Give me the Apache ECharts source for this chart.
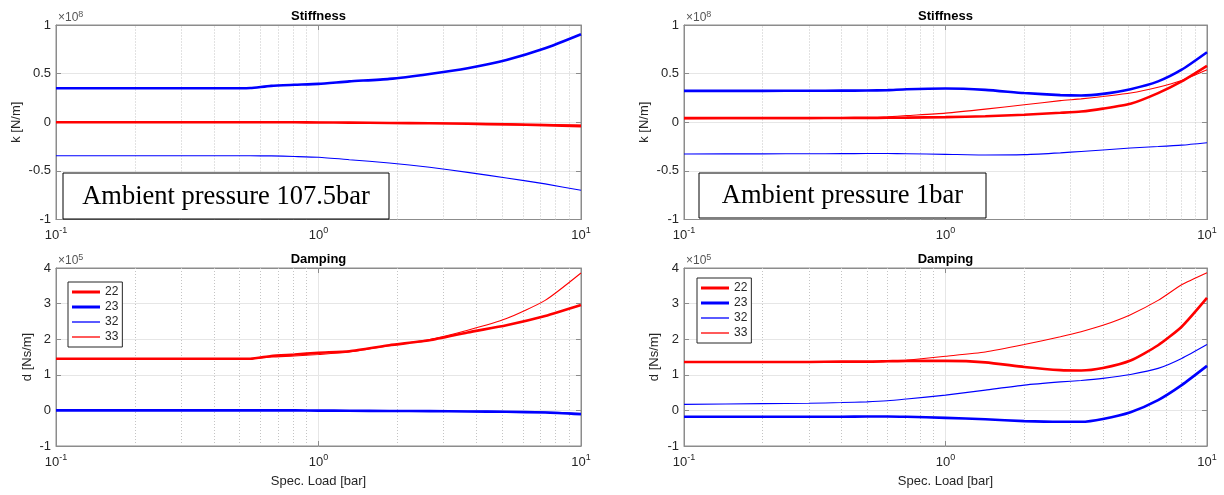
<!DOCTYPE html>
<html><head><meta charset="utf-8">
<script src="https://cdn.jsdelivr.net/npm/echarts@6/dist/echarts.min.js"></script>
<style>html,body{margin:0;padding:0;background:#fff}#c{width:1224px;height:495px}</style>
</head><body><div id="c"></div><script>
// ---- data ----
const seriesNames = ['22', '23', '32', '33'];
const xTicks = [0.1, 1, 10];
const minorX = [0.2, 0.3, 0.4, 0.5, 0.6, 0.7, 0.8, 0.9, 2, 3, 4, 5, 6, 7, 8, 9];
const kTicks = [-1, -0.5, 0, 0.5, 1];
const dTicks = [-1, 0, 1, 2, 3, 4];

// Ambient pressure 107.5 bar (left column)
const xLeft = [0.1, 0.2, 0.3, 0.4, 0.5, 0.55, 0.66, 0.81, 1.0, 1.31, 1.86, 2.65, 3.7, 5.2, 7.3, 10];
const kL22 = [0, 0, 0, 0, 0, 0, 0, 0, -0.002, -0.004, -0.007, -0.011, -0.016, -0.022, -0.03, -0.04];
const kL23 = [0.35, 0.35, 0.35, 0.35, 0.35, 0.352, 0.374, 0.385, 0.395, 0.42, 0.446, 0.497, 0.556, 0.64, 0.76, 0.905];
const kL32 = [-0.345, -0.345, -0.345, -0.345, -0.345, -0.345, -0.346, -0.352, -0.36, -0.385, -0.419, -0.463, -0.515, -0.573, -0.634, -0.70];
const kL33 = [0, 0, 0, 0, 0, 0, 0, 0, -0.001, -0.003, -0.005, -0.008, -0.012, -0.017, -0.023, -0.03];
const dL22 = [1.45, 1.45, 1.45, 1.45, 1.45, 1.45, 1.53, 1.57, 1.62, 1.66, 1.83, 1.97, 2.19, 2.39, 2.65, 2.96];
const dL23 = [0, 0, 0, 0, 0, 0, 0, 0, -0.005, -0.01, -0.015, -0.02, -0.03, -0.04, -0.06, -0.11];
const dL32 = [0, 0, 0, 0, 0, 0, 0, 0, -0.003, -0.006, -0.01, -0.015, -0.022, -0.03, -0.045, -0.08];
const dL33 = [1.45, 1.45, 1.45, 1.45, 1.45, 1.45, 1.50, 1.53, 1.57, 1.64, 1.82, 1.99, 2.25, 2.58, 3.09, 3.86];

// Ambient pressure 1 bar (right column)
const xRight = [0.1, 0.2, 0.3, 0.4, 0.5, 0.6, 0.71, 1.0, 1.42, 2.0, 2.75, 3.3, 4.0, 5.1, 6.5, 8.0, 10];
const kR22 = [0.043, 0.043, 0.043, 0.044, 0.045, 0.046, 0.048, 0.053, 0.062, 0.077, 0.097, 0.11, 0.14, 0.19, 0.30, 0.42, 0.58];
const kR23 = [0.323, 0.323, 0.324, 0.325, 0.326, 0.33, 0.34, 0.347, 0.333, 0.30, 0.279, 0.275, 0.292, 0.34, 0.42, 0.54, 0.72];
const kR32 = [-0.326, -0.325, -0.324, -0.323, -0.322, -0.322, -0.324, -0.33, -0.337, -0.333, -0.315, -0.30, -0.285, -0.265, -0.25, -0.235, -0.21];
const kR33 = [0.035, 0.036, 0.037, 0.04, 0.045, 0.055, 0.068, 0.094, 0.135, 0.18, 0.222, 0.24, 0.265, 0.30, 0.36, 0.43, 0.54];
const dR22 = [1.36, 1.36, 1.36, 1.37, 1.37, 1.38, 1.39, 1.39, 1.35, 1.22, 1.13, 1.12, 1.19, 1.40, 1.83, 2.35, 3.16];
const dR23 = [-0.18, -0.18, -0.18, -0.18, -0.17, -0.17, -0.18, -0.21, -0.25, -0.30, -0.32, -0.32, -0.24, -0.05, 0.29, 0.71, 1.25];
const dR32 = [0.17, 0.19, 0.20, 0.22, 0.24, 0.27, 0.32, 0.43, 0.57, 0.71, 0.80, 0.84, 0.90, 1.01, 1.18, 1.46, 1.85];
const dR33 = [1.36, 1.36, 1.36, 1.37, 1.37, 1.38, 1.41, 1.52, 1.64, 1.85, 2.07, 2.21, 2.39, 2.69, 3.09, 3.53, 3.87];

// ---- layout / style ----
const FONT = '"Liberation Sans", Arial, Helvetica, sans-serif';
const SERIF = '"Liberation Serif", "Times New Roman", serif';
const TXT = '#262626';
const AX = '#8c8c8c';
const lineStyles = [
  { color: '#ff0000', width: 2.6 },
  { color: '#0000ff', width: 2.6 },
  { color: '#0000ff', width: 1.1 },
  { color: '#ff0000', width: 1.1 }
];

const panels = [
  { grid: { left: 56, top: 25, width: 525, height: 194.5 }, x: xLeft, s: [kL22, kL23, kL32, kL33], ticks: kTicks, yName: 'k [N/m]', yGap: 33, title: 'Stiffness', exp: '8', xName: '' },
  { grid: { left: 56, top: 268, width: 525, height: 178 }, x: xLeft, s: [dL22, dL23, dL32, dL33], ticks: dTicks, yName: 'd [Ns/m]', yGap: 22, title: 'Damping', exp: '5', xName: 'Spec. Load [bar]' },
  { grid: { left: 684, top: 25, width: 523, height: 194.5 }, x: xRight, s: [kR22, kR23, kR32, kR33], ticks: kTicks, yName: 'k [N/m]', yGap: 33, title: 'Stiffness', exp: '8', xName: '' },
  { grid: { left: 684, top: 268, width: 523, height: 178 }, x: xRight, s: [dR22, dR23, dR32, dR33], ticks: dTicks, yName: 'd [Ns/m]', yGap: 23, title: 'Damping', exp: '5', xName: 'Spec. Load [bar]' }
];

const grid = [], xAxis = [], yAxis = [], series = [], graphic = [];
const n = panels.length;
panels.forEach((p, i) => {
  grid.push(Object.assign({ show: true, borderColor: AX, borderWidth: 1, backgroundColor: '#fff', containLabel: false }, p.grid));
  const tickInterval = p.ticks[1] - p.ticks[0];
  xAxis[i] = {
    type: 'log', logBase: 10, gridIndex: i, position: 'bottom', min: xTicks[0], max: xTicks[xTicks.length - 1],
    axisLine: { show: true, onZero: false, lineStyle: { color: AX, width: 1 } },
    axisTick: { show: true, inside: true, length: 5, lineStyle: { color: AX } },
    splitLine: { show: true, lineStyle: { color: '#e6e6e6', width: 1 } },
    axisLabel: {
      show: true, margin: 7, showMinLabel: true, showMaxLabel: true,
      formatter: v => '{b|10}{s|' + Math.round(Math.log10(v)) + '}',
      rich: {
        b: { fontSize: 13, fontFamily: FONT, color: TXT, lineHeight: 18 },
        s: { fontSize: 9, fontFamily: FONT, color: TXT, verticalAlign: 'top', lineHeight: 10 }
      }
    },
    name: p.xName, nameLocation: 'middle', nameGap: 29,
    nameTextStyle: { fontSize: 13, fontFamily: FONT, color: TXT }
  };
  xAxis[n + i] = {
    type: 'log', logBase: 10, gridIndex: i, position: 'top', min: xTicks[0], max: xTicks[xTicks.length - 1],
    axisLine: { show: true, onZero: false, lineStyle: { color: AX } },
    axisTick: { show: true, inside: true, length: 5, lineStyle: { color: AX } },
    axisLabel: { show: false }, splitLine: { show: false }
  };
  yAxis[i] = {
    type: 'value', gridIndex: i, position: 'left', min: p.ticks[0], max: p.ticks[p.ticks.length - 1], interval: tickInterval,
    axisLine: { show: true, onZero: false, lineStyle: { color: AX } },
    axisTick: { show: true, inside: true, length: 5, lineStyle: { color: AX } },
    splitLine: { show: true, lineStyle: { color: '#e6e6e6', width: 1 } },
    axisLabel: { fontSize: 13, fontFamily: FONT, color: TXT, margin: 5 },
    name: p.yName, nameLocation: 'middle', nameGap: p.yGap,
    nameTextStyle: { fontSize: 13, fontFamily: FONT, color: TXT }
  };
  yAxis[n + i] = {
    type: 'value', gridIndex: i, position: 'right', min: p.ticks[0], max: p.ticks[p.ticks.length - 1], interval: tickInterval,
    axisLine: { show: true, onZero: false, lineStyle: { color: AX } },
    axisTick: { show: true, inside: true, length: 5, lineStyle: { color: AX } },
    axisLabel: { show: false }, splitLine: { show: false }
  };
  // minor log grid lines
  series.push({
    type: 'line', name: 'minor' + i, xAxisIndex: i, yAxisIndex: i, data: [], silent: true, z: 1,
    markLine: {
      silent: true, z: 1, symbol: ['none', 'none'], animation: false,
      label: { show: false },
      lineStyle: { type: [1, 2], color: '#c4c4c4', width: 1 },
      emphasis: { disabled: true },
      data: minorX.map(v => ({ xAxis: v }))
    }
  });
  p.s.forEach((vals, k) => {
    series.push({
      type: 'line', name: seriesNames[k], xAxisIndex: i, yAxisIndex: i,
      data: p.x.map((xv, j) => [xv, vals[j]]),
      showSymbol: false, symbol: 'none', smooth: 0.2,
      lineStyle: { color: lineStyles[k].color, width: lineStyles[k].width },
      itemStyle: { color: lineStyles[k].color },
      z: 3 + k, animation: false
    });
  });
  const g = p.grid;
  graphic.push({
    type: 'text', x: g.left + g.width / 2, y: g.top - 9,
    style: { text: p.title, font: 'bold 13px ' + FONT, fill: '#000', textAlign: 'center', textVerticalAlign: 'middle' }
  });
  graphic.push({
    type: 'text', x: g.left + 2, y: g.top - 7,
    style: {
      text: '{a|×10}{b|' + p.exp + '}', textAlign: 'left', textVerticalAlign: 'middle',
      rich: {
        a: { fontSize: 12, fontFamily: FONT, fill: '#555', lineHeight: 16 },
        b: { fontSize: 9, fontFamily: FONT, fill: '#555', verticalAlign: 'top', lineHeight: 9 }
      }
    }
  });
});

// annotation boxes
const notes = [
  { text: 'Ambient pressure 107.5bar', x: 63, y: 173, w: 326, h: 46 },
  { text: 'Ambient pressure 1bar', x: 699, y: 173, w: 287, h: 45 }
];
notes.forEach(nb => {
  graphic.push({ type: 'rect', shape: { x: nb.x, y: nb.y, width: nb.w, height: nb.h }, style: { fill: '#fff', stroke: '#000', lineWidth: 1 }, z: 100 });
  graphic.push({ type: 'text', x: nb.x + nb.w / 2, y: nb.y + nb.h / 2 + 1, z: 101,
    style: { text: nb.text, font: '26.5px ' + SERIF, fill: '#000', textAlign: 'center', textVerticalAlign: 'middle' } });
});

const legendData = seriesNames.map((nm, k) => ({
  name: nm,
  icon: 'path://M0,0H28V' + (lineStyles[k].width > 2 ? 3 : 1.3) + 'H0Z'
}));
const legendBase = {
  orient: 'vertical', data: legendData, borderColor: '#262626', borderWidth: 1, backgroundColor: '#fff',
  padding: [4, 4, 4, 4], itemWidth: 28, itemHeight: 12, itemGap: 3, selectedMode: false,
  textStyle: { fontSize: 12, fontFamily: FONT, color: TXT }, z: 50
};
const legend = [
  Object.assign({ left: 68, top: 282 }, legendBase),
  Object.assign({ left: 697, top: 278 }, legendBase)
];

const chart = echarts.init(document.getElementById('c'), null, { renderer: 'canvas' });
chart.setOption({ animation: false, backgroundColor: '#fff', grid, xAxis, yAxis, series, legend, graphic });
</script></body></html>
